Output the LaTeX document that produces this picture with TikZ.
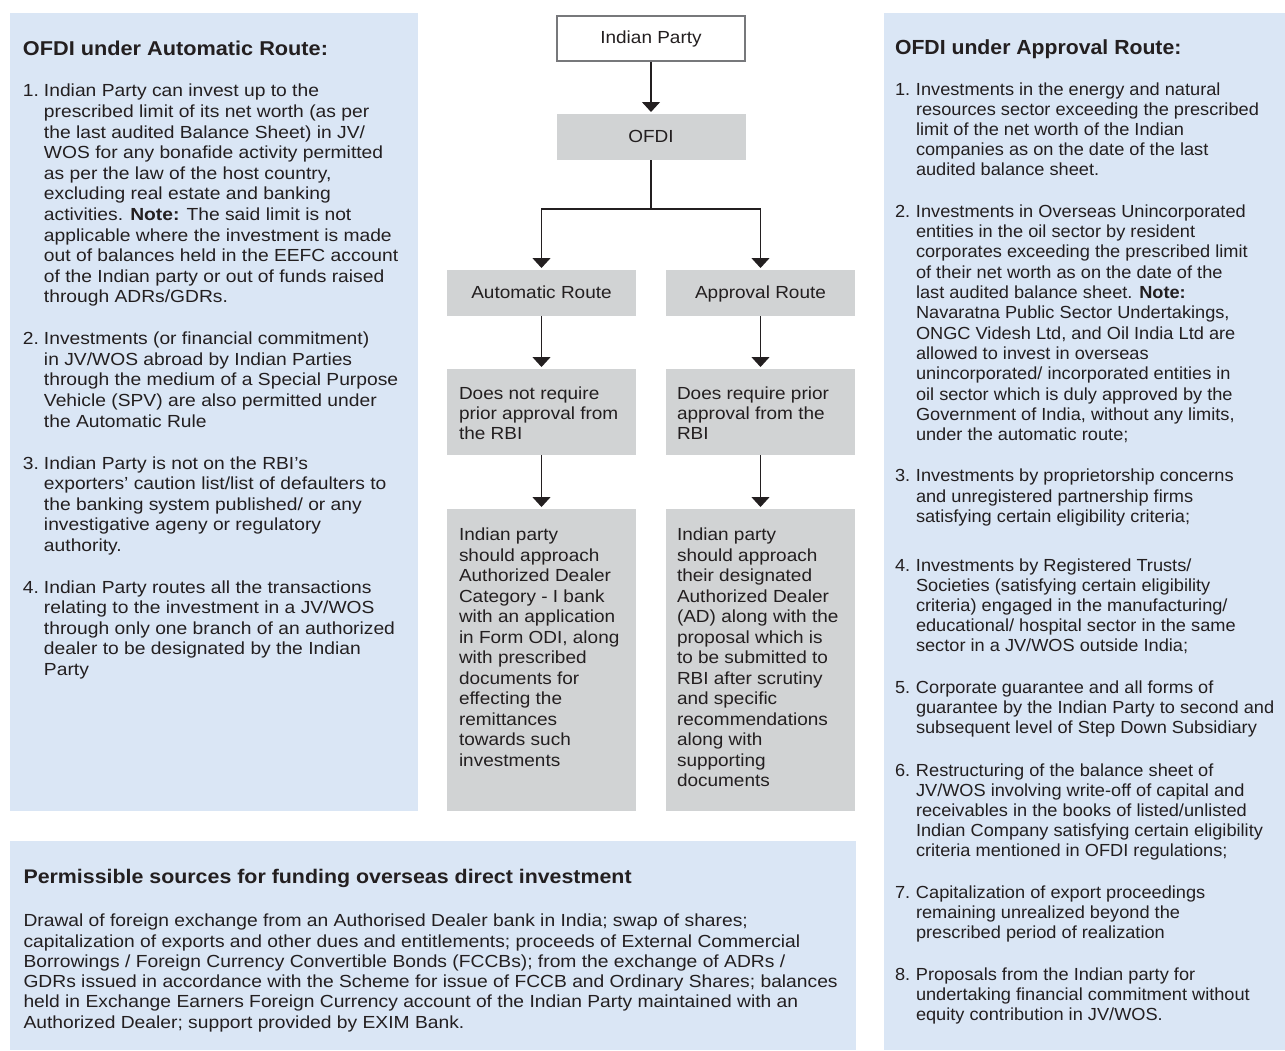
\documentclass[tikz,border=0pt]{standalone}
\usepackage{fontspec}
\setmainfont{Liberation Sans}[FakeStretch=1.085]
\newfontfamily\lfont{Liberation Sans}[FakeStretch=1.10]
\newfontfamily\rfont{Liberation Sans}[FakeStretch=1.04]
\usetikzlibrary{arrows.meta}
\definecolor{panelblue}{HTML}{DAE6F5}
\definecolor{boxgray}{HTML}{D1D3D4}
\definecolor{ink}{HTML}{231F20}
\definecolor{rim}{HTML}{77787B}
\newcommand\mylines[3][]{{#1\fontsize{17.5}{#2}\selectfont\begin{tabular}[t]{@{}l@{}}#3\end{tabular}}}
\newcommand\numitem[4][]{{#1\makebox[21pt][l]{\fontsize{17.5}{#2}\selectfont #3}\mylines[#1]{#2}{#4}}}
\begin{document}
\begin{tikzpicture}[x=1pt,y=-1pt,
  every node/.style={text=ink, font=\fontsize{17.5}{20.5}\selectfont},
  panel/.style={fill=panelblue, draw=none, anchor=north west, inner sep=0pt, outer sep=0pt},
  grybox/.style={fill=boxgray, draw=none, inner sep=0pt, outer sep=0pt, minimum width=189pt},
  oneline/.style={text height=12.6pt, text depth=2pt},
  txt/.style={anchor=base west, inner sep=0pt, outer sep=0pt},
  head/.style={anchor=base west, inner sep=0pt, outer sep=0pt, font=\fontsize{20}{24}\selectfont\bfseries},
  arr/.style={draw=ink, line width=1.3pt, shorten >=2pt, -{Triangle[width=18pt,length=10pt]}},
  conn/.style={draw=ink, line width=1.3pt}]
\useasboundingbox (0,0) rectangle (1285,1050);
\fill[white] (0,0) rectangle (1285,1050);

% panels
\node[panel, minimum width=408pt, minimum height=798pt] (lp) at (10,13) {};
\node[panel, minimum width=401pt, minimum height=1037pt] (rp) at (884,13) {};
\node[panel, minimum width=846pt, minimum height=209pt] (bp) at (10,841) {};

% central flow
\node[oneline, draw=rim, line width=1.3pt, fill=white, minimum width=188pt, minimum height=45pt, inner sep=0pt] (ip) at (651,38.5) {Indian Party};
\node[grybox, oneline, minimum height=46pt] (ofdi) at (651,137) {OFDI};
\node[grybox, oneline, minimum height=46pt] (auto) at (541.5,293) {Automatic Route};
\node[grybox, oneline, minimum height=46pt] (appr) at (760.5,293) {Approval Route};
\node[grybox, anchor=north west, minimum height=86pt] (dn) at (447,369) {};
\node[grybox, anchor=north west, minimum height=86pt] (dr) at (666,369) {};
\node[grybox, anchor=north west, minimum height=302pt] (fa) at (447,509) {};
\node[grybox, anchor=north west, minimum height=302pt] (fb) at (666,509) {};

\node[txt] (dnt) at (459,399.3) {\mylines{20}{Does not require\\prior approval from\\the RBI}};
\node[txt] (drt) at (677,399.3) {\mylines{20}{Does require prior\\approval from the\\RBI}};
\node[txt] (fat) at (459,540.7) {\mylines{20.5}{Indian party\\should approach\\Authorized Dealer\\Category - I bank\\with an application\\in Form ODI, along\\with prescribed\\documents for\\effecting the\\remittances\\towards such\\investments}};
\node[txt] (fbt) at (677,540.7) {\mylines{20.5}{Indian party\\should approach\\their designated\\Authorized Dealer\\(AD) along with the\\proposal which is\\to be submitted to\\RBI after scrutiny\\and specific\\recommendations\\along with\\supporting\\documents}};

\coordinate (split) at (651,209);
\draw[arr] (ip) -- (ofdi);
\draw[conn] (ofdi.south) -- (split);
\draw[arr] (split) -| (auto.north);
\draw[arr] (split) -| (appr.north);
\draw[arr] (auto.south) -- (dn.north);
\draw[arr] (appr.south) -- (dr.north);
\draw[arr] (dn.south) -- (fa.north);
\draw[arr] (dr.south) -- (fb.north);

% left panel
\node[head] (lh) at (23,55) {OFDI under Automatic Route:};
\node[txt] (l1) at (23,96.8) {\numitem[\lfont]{20.6}{1.}{Indian Party can invest up to the\\prescribed limit of its net worth (as per\\the last audited Balance Sheet) in JV/\\WOS for any bonafide activity permitted\\as per the law of the host country,\\excluding real estate and banking\\activities. \textbf{Note:} The said limit is not\\applicable where the investment is made\\out of balances held in the EEFC account\\of the Indian party or out of funds raised\\through ADRs/GDRs.}};
\node[txt] (l2) at (23,344.5) {\numitem[\lfont]{20.7}{2.}{Investments (or financial commitment)\\in JV/WOS abroad by Indian Parties\\through the medium of a Special Purpose\\Vehicle (SPV) are also permitted under\\the Automatic Rule}};
\node[txt] (l3) at (23,469) {\numitem[\lfont]{20.5}{3.}{Indian Party is not on the RBI’s\\exporters’ caution list/list of defaulters to\\the banking system published/ or any\\investigative ageny or regulatory\\authority.}};
\node[txt] (l4) at (23,593.3) {\numitem[\lfont]{20.5}{4.}{Indian Party routes all the transactions\\relating to the investment in a JV/WOS\\through only one branch of an authorized\\dealer to be designated by the Indian\\Party}};

% right panel
\node[head, font=\rfont\fontsize{20.4}{24}\selectfont\bfseries] (rh) at (895,54) {OFDI under Approval Route:};
\node[txt] (r1) at (895,95) {\numitem[\rfont]{20.2}{1.}{Investments in the energy and natural\\resources sector exceeding the prescribed\\limit of the net worth of the Indian\\companies as on the date of the last\\audited balance sheet.}};
\node[txt] (r2) at (895,217.3) {\numitem[\rfont]{20.3}{2.}{Investments in Overseas Unincorporated\\entities in the oil sector by resident\\corporates exceeding the prescribed limit\\of their net worth as on the date of the\\last audited balance sheet. \textbf{Note:}\\Navaratna Public Sector Undertakings,\\ONGC Videsh Ltd, and Oil India Ltd are\\allowed to invest in overseas\\unincorporated/ incorporated entities in\\oil sector which is duly approved by the\\Government of India, without any limits,\\under the automatic route;}};
\node[txt] (r3) at (895,481.7) {\numitem[\rfont]{20.3}{3.}{Investments by proprietorship concerns\\and unregistered partnership firms\\satisfying certain eligibility criteria;}};
\node[txt] (r4) at (895,571.7) {\numitem[\rfont]{20}{4.}{Investments by Registered Trusts/\\Societies (satisfying certain eligibility\\criteria) engaged in the manufacturing/\\educational/ hospital sector in the same\\sector in a JV/WOS outside India;}};
\node[txt] (r5) at (895,693.3) {\numitem[\rfont]{20}{5.}{Corporate guarantee and all forms of\\guarantee by the Indian Party to second and\\subsequent level of Step Down Subsidiary}};
\node[txt] (r6) at (895,776) {\numitem[\rfont]{20}{6.}{Restructuring of the balance sheet of\\JV/WOS involving write-off of capital and\\receivables in the books of listed/unlisted\\Indian Company satisfying certain eligibility\\criteria mentioned in OFDI regulations;}};
\node[txt] (r7) at (895,898.3) {\numitem[\rfont]{20}{7.}{Capitalization of export proceedings\\remaining unrealized beyond the\\prescribed period of realization}};
\node[txt] (r8) at (895,980) {\numitem[\rfont]{20}{8.}{Proposals from the Indian party for\\undertaking financial commitment without\\equity contribution in JV/WOS.}};

% bottom panel
\node[head, font=\fontsize{19.7}{24}\selectfont\bfseries] (bh) at (23.5,883.3) {Permissible sources for funding overseas direct investment};
\node[txt] (bt) at (23.5,926.7) {\mylines[\lfont]{20.3}{Drawal of foreign exchange from an Authorised Dealer bank in India; swap of shares;\\capitalization of exports and other dues and entitlements; proceeds of External Commercial\\Borrowings / Foreign Currency Convertible Bonds (FCCBs); from the exchange of ADRs /\\GDRs issued in accordance with the Scheme for issue of FCCB and Ordinary Shares; balances\\held in Exchange Earners Foreign Currency account of the Indian Party maintained with an\\Authorized Dealer; support provided by EXIM Bank.}};
\end{tikzpicture}
\end{document}
